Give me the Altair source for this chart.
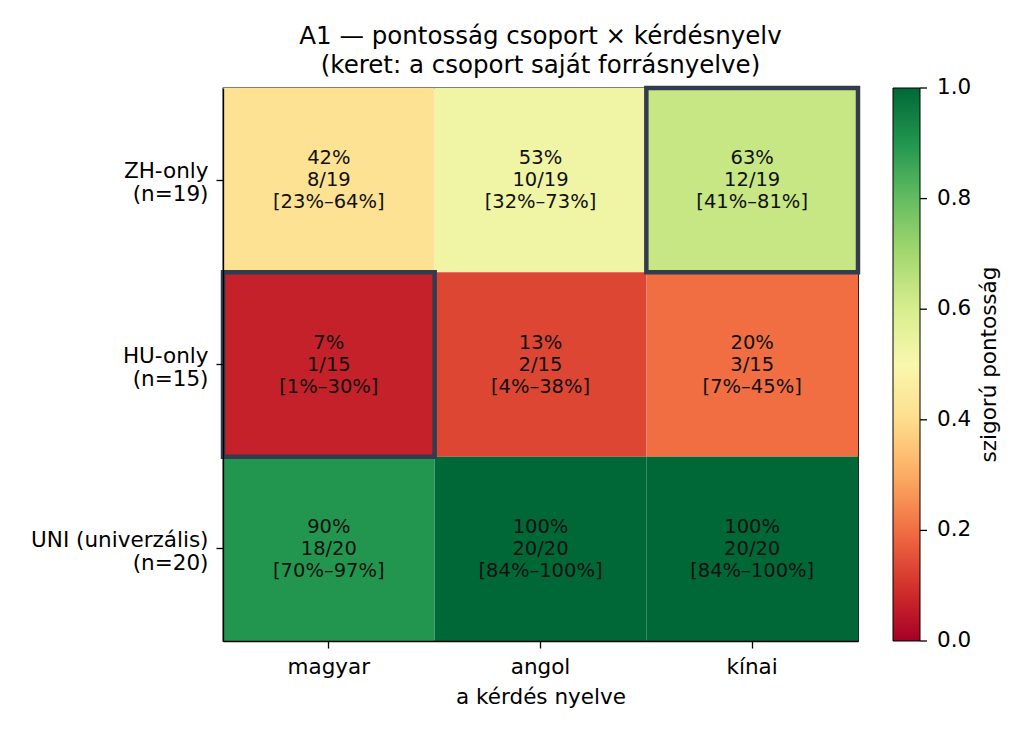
import pandas as pd
import altair as alt

groups = ["ZH-only", "HU-only", "UNI (univerzális)"]
group_n = [19, 15, 20]
own_language = ["kínai", "magyar", None]
languages = ["magyar", "angol", "kínai"]

correct = {
    "ZH-only": [8, 10, 12],
    "HU-only": [1, 2, 3],
    "UNI (univerzális)": [18, 20, 20],
}
ci_low = {
    "ZH-only": [23, 32, 41],
    "HU-only": [1, 4, 7],
    "UNI (univerzális)": [70, 84, 84],
}
ci_high = {
    "ZH-only": [64, 73, 81],
    "HU-only": [30, 38, 45],
    "UNI (univerzális)": [97, 100, 100],
}
cbar_ticks = [0.0, 0.2, 0.4, 0.6, 0.8, 1.0]

rows = []
for g, n, own in zip(groups, group_n, own_language):
    for i, lang in enumerate(languages):
        k = correct[g][i]
        acc = k / n
        rows.append({
            "group": f"{g}\n(n={n})",
            "lang": lang,
            "acc": acc,
            "own": lang == own,
            "label": f"{round(acc * 100):.0f}%\n{k}/{n}\n[{ci_low[g][i]}%–{ci_high[g][i]}%]",
        })
df = pd.DataFrame(rows)
group_order = [f"{g}\n(n={n})" for g, n in zip(groups, group_n)]

FONT = "DejaVu Sans"
W, H = 635, 553
acc_scale = alt.Scale(scheme="redyellowgreen", domain=[0, 1])

x_enc = alt.X("lang:N", sort=languages, title="a kérdés nyelve",
              scale=alt.Scale(paddingInner=0, paddingOuter=0),
              axis=alt.Axis(labelAngle=0, labelFontSize=21.5, titleFontSize=21.5,
                            titleFontWeight="normal", tickSize=7, labelPadding=8,
                            titlePadding=9))
y_enc = alt.Y("group:N", sort=group_order, title=None,
              scale=alt.Scale(paddingInner=0, paddingOuter=0),
              axis=alt.Axis(labelExpr="split(datum.label, '\\n')", labelFontSize=21.5,
                            labelLineHeight=23, labelOffset=-8, tickSize=7, labelPadding=8,
                            labelLimit=400, labelAlign="right", labelBaseline="middle"))

# colorbar ends nudged inside so vega keeps the labels centred on the ticks
legend_values = [0.0001, 0.2, 0.4, 0.6, 0.8, 0.9999]

cells = alt.Chart(df).mark_rect().encode(
    x=x_enc,
    y=y_enc,
    color=alt.Color("acc:Q", title=None, scale=acc_scale,
                    legend=alt.Legend(orient="right", offset=35, gradientLength=H,
                                      gradientThickness=27, gradientStrokeColor="black",
                                      gradientStrokeWidth=1, values=legend_values,
                                      format=".1f", labelFontSize=21.5, labelOffset=17,
                                      labelOverlap=False)),
)

frames = alt.Chart(df).transform_filter("datum.own").mark_rect(
    fillOpacity=0, stroke="#333c4d", strokeWidth=4.5
).encode(x=x_enc, y=y_enc)

texts = alt.Chart(df).mark_text(
    lineBreak="\n", fontSize=19.5, lineHeight=22, dy=-22, color="#111111", baseline="middle"
).encode(x=x_enc, y=y_enc, text="label:N")

heatmap = alt.layer(cells, frames, texts)

cbar_tick_marks = alt.Chart(pd.DataFrame({"v": cbar_ticks})).mark_rule(
    color="black", strokeWidth=1.3
).encode(
    y=alt.Y("v:Q", scale=alt.Scale(domain=[0, 1]), axis=None),
    x=alt.value(W + 62), x2=alt.value(W + 69),
)

cbar_title = alt.Chart(pd.DataFrame({"t": ["szigorú pontosság"]})).mark_text(
    angle=270, fontSize=21.5, color="black", baseline="middle", align="center"
).encode(x=alt.value(W + 132), y=alt.value(H / 2), text="t:N")

chart = alt.layer(heatmap, cbar_tick_marks, cbar_title).resolve_scale(
    y="independent"
).properties(
    width=W,
    height=H,
    title=alt.TitleParams(["A1 — pontosság csoport × kérdésnyelv",
                           "(keret: a csoport saját forrásnyelve)"],
                          fontSize=24.5, fontWeight="normal", lineHeight=29,
                          anchor="middle", offset=7, color="black"),
    autosize=alt.AutoSizeParams(type="none"),
    padding={"left": 215, "top": 80, "right": 158, "bottom": 87},
).configure(font=FONT).configure_view(
    stroke="black", strokeWidth=1.3
).configure_axis(
    labelColor="black", titleColor="black", tickColor="black", tickWidth=1.3,
    domainColor="black", domainWidth=1.3, grid=False, labelFont=FONT, titleFont=FONT
).configure_legend(
    labelColor="black", titleColor="black", labelFont=FONT, titleFont=FONT
)

chart.save("out.html", embed_options={"renderer": "svg", "actions": False})
